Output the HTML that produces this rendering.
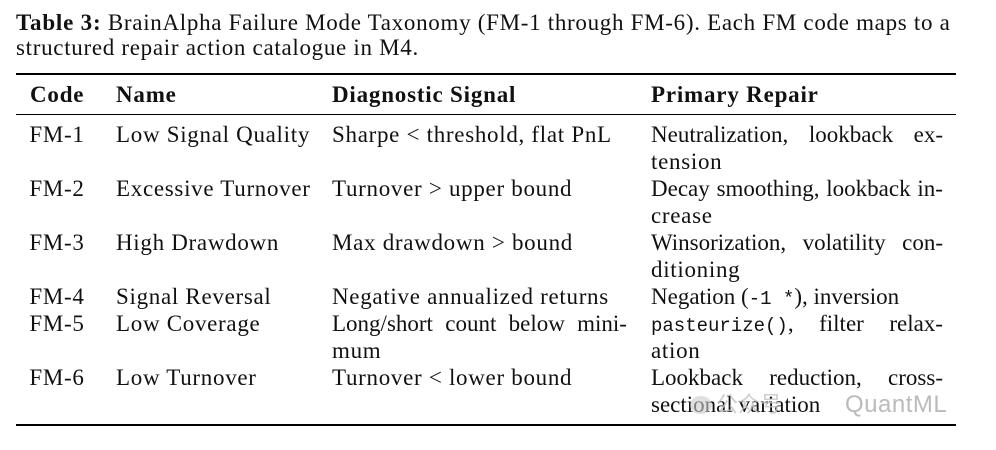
<!DOCTYPE html>
<html><head><meta charset="utf-8"><style>
body{margin:0;width:996px;height:450px;background:#fff;position:relative;overflow:hidden;font-family:"Liberation Serif",serif;font-size:23px;letter-spacing:0.7px;color:#111}
.t{position:absolute;line-height:24px;white-space:nowrap}
.r{position:absolute;left:16px;width:940px;background:#000}
.j{position:absolute;left:651px;width:292px;line-height:24px;white-space:nowrap;display:flex;justify-content:space-between;letter-spacing:0}
b{font-weight:bold;letter-spacing:0.8px}
code{font-family:"Liberation Mono",monospace;font-size:19px;letter-spacing:0}
.c{width:60px;text-align:center;left:27px}
</style></head><body>
<div class="t" style="left:16px;top:11px"><b>Table 3:</b> BrainAlpha Failure Mode Taxonomy (FM-1 through FM-6). Each FM code maps to a</div>
<div class="t" style="left:16px;top:36px">structured repair action catalogue in M4.</div>
<div class="r" style="top:73px;height:2px"></div>
<div class="t" style="left:30px;top:83px"><b>Code</b></div>
<div class="t" style="left:116px;top:83px"><b>Name</b></div>
<div class="t" style="left:332px;top:83px"><b>Diagnostic Signal</b></div>
<div class="t" style="left:651px;top:83px"><b>Primary Repair</b></div>
<div class="r" style="top:114px;height:1px"></div>

<div class="t c" style="top:123px">FM-1</div>
<div class="t" style="left:116px;top:123px">Low Signal Quality</div>
<div class="t" style="left:332px;top:123px">Sharpe &lt; threshold, flat PnL</div>
<div class="j" style="top:123px"><span>Neutralization,</span><span>lookback</span><span>ex-</span></div>
<div class="t" style="left:651px;top:150px">tension</div>

<div class="t c" style="top:177px">FM-2</div>
<div class="t" style="left:116px;top:177px">Excessive Turnover</div>
<div class="t" style="left:332px;top:177px">Turnover &gt; upper bound</div>
<div class="j" style="top:177px"><span>Decay</span><span>smoothing,</span><span>lookback</span><span>in-</span></div>
<div class="t" style="left:651px;top:204px">crease</div>

<div class="t c" style="top:231px">FM-3</div>
<div class="t" style="left:116px;top:231px">High Drawdown</div>
<div class="t" style="left:332px;top:231px">Max drawdown &gt; bound</div>
<div class="j" style="top:231px"><span>Winsorization,</span><span>volatility</span><span>con-</span></div>
<div class="t" style="left:651px;top:258px">ditioning</div>

<div class="t c" style="top:285px">FM-4</div>
<div class="t" style="left:116px;top:285px">Signal Reversal</div>
<div class="t" style="left:332px;top:285px">Negative annualized returns</div>
<div class="t" style="left:651px;top:285px;letter-spacing:0">Negation (<code>-1 *</code>), inversion</div>

<div class="t c" style="top:312px">FM-5</div>
<div class="t" style="left:116px;top:312px">Low Coverage</div>
<div class="t" style="left:332px;top:312px;width:295px;display:flex;justify-content:space-between;letter-spacing:0"><span>Long/short</span><span>count</span><span>below</span><span>mini-</span></div>
<div class="t" style="left:332px;top:339px">mum</div>
<div class="j" style="top:312px"><span><code>pasteurize()</code>,</span><span>filter</span><span>relax-</span></div>
<div class="t" style="left:651px;top:339px">ation</div>

<div class="t c" style="top:366px">FM-6</div>
<div class="t" style="left:116px;top:366px">Low Turnover</div>
<div class="t" style="left:332px;top:366px">Turnover &lt; lower bound</div>
<div class="j" style="top:366px"><span>Lookback</span><span>reduction,</span><span>cross-</span></div>
<div class="t" style="left:651px;top:393px;letter-spacing:0">sectional variation</div>
<div style="position:absolute;left:690px;top:396px;width:22px;height:18px;border-radius:50%;background:#ccc;opacity:.6"></div>
<div class="t" style="left:716px;top:393px;font-family:'Liberation Sans','Noto Sans CJK SC',sans-serif;color:#c4c4c4;font-size:22px;letter-spacing:0;opacity:.8">公众号</div>
<div class="t" style="left:845px;top:393px;font-family:'Liberation Sans',sans-serif;color:#bbb;font-size:24px;letter-spacing:0.5px">QuantML</div>
<div class="r" style="top:424px;height:2px"></div>
</body></html>
